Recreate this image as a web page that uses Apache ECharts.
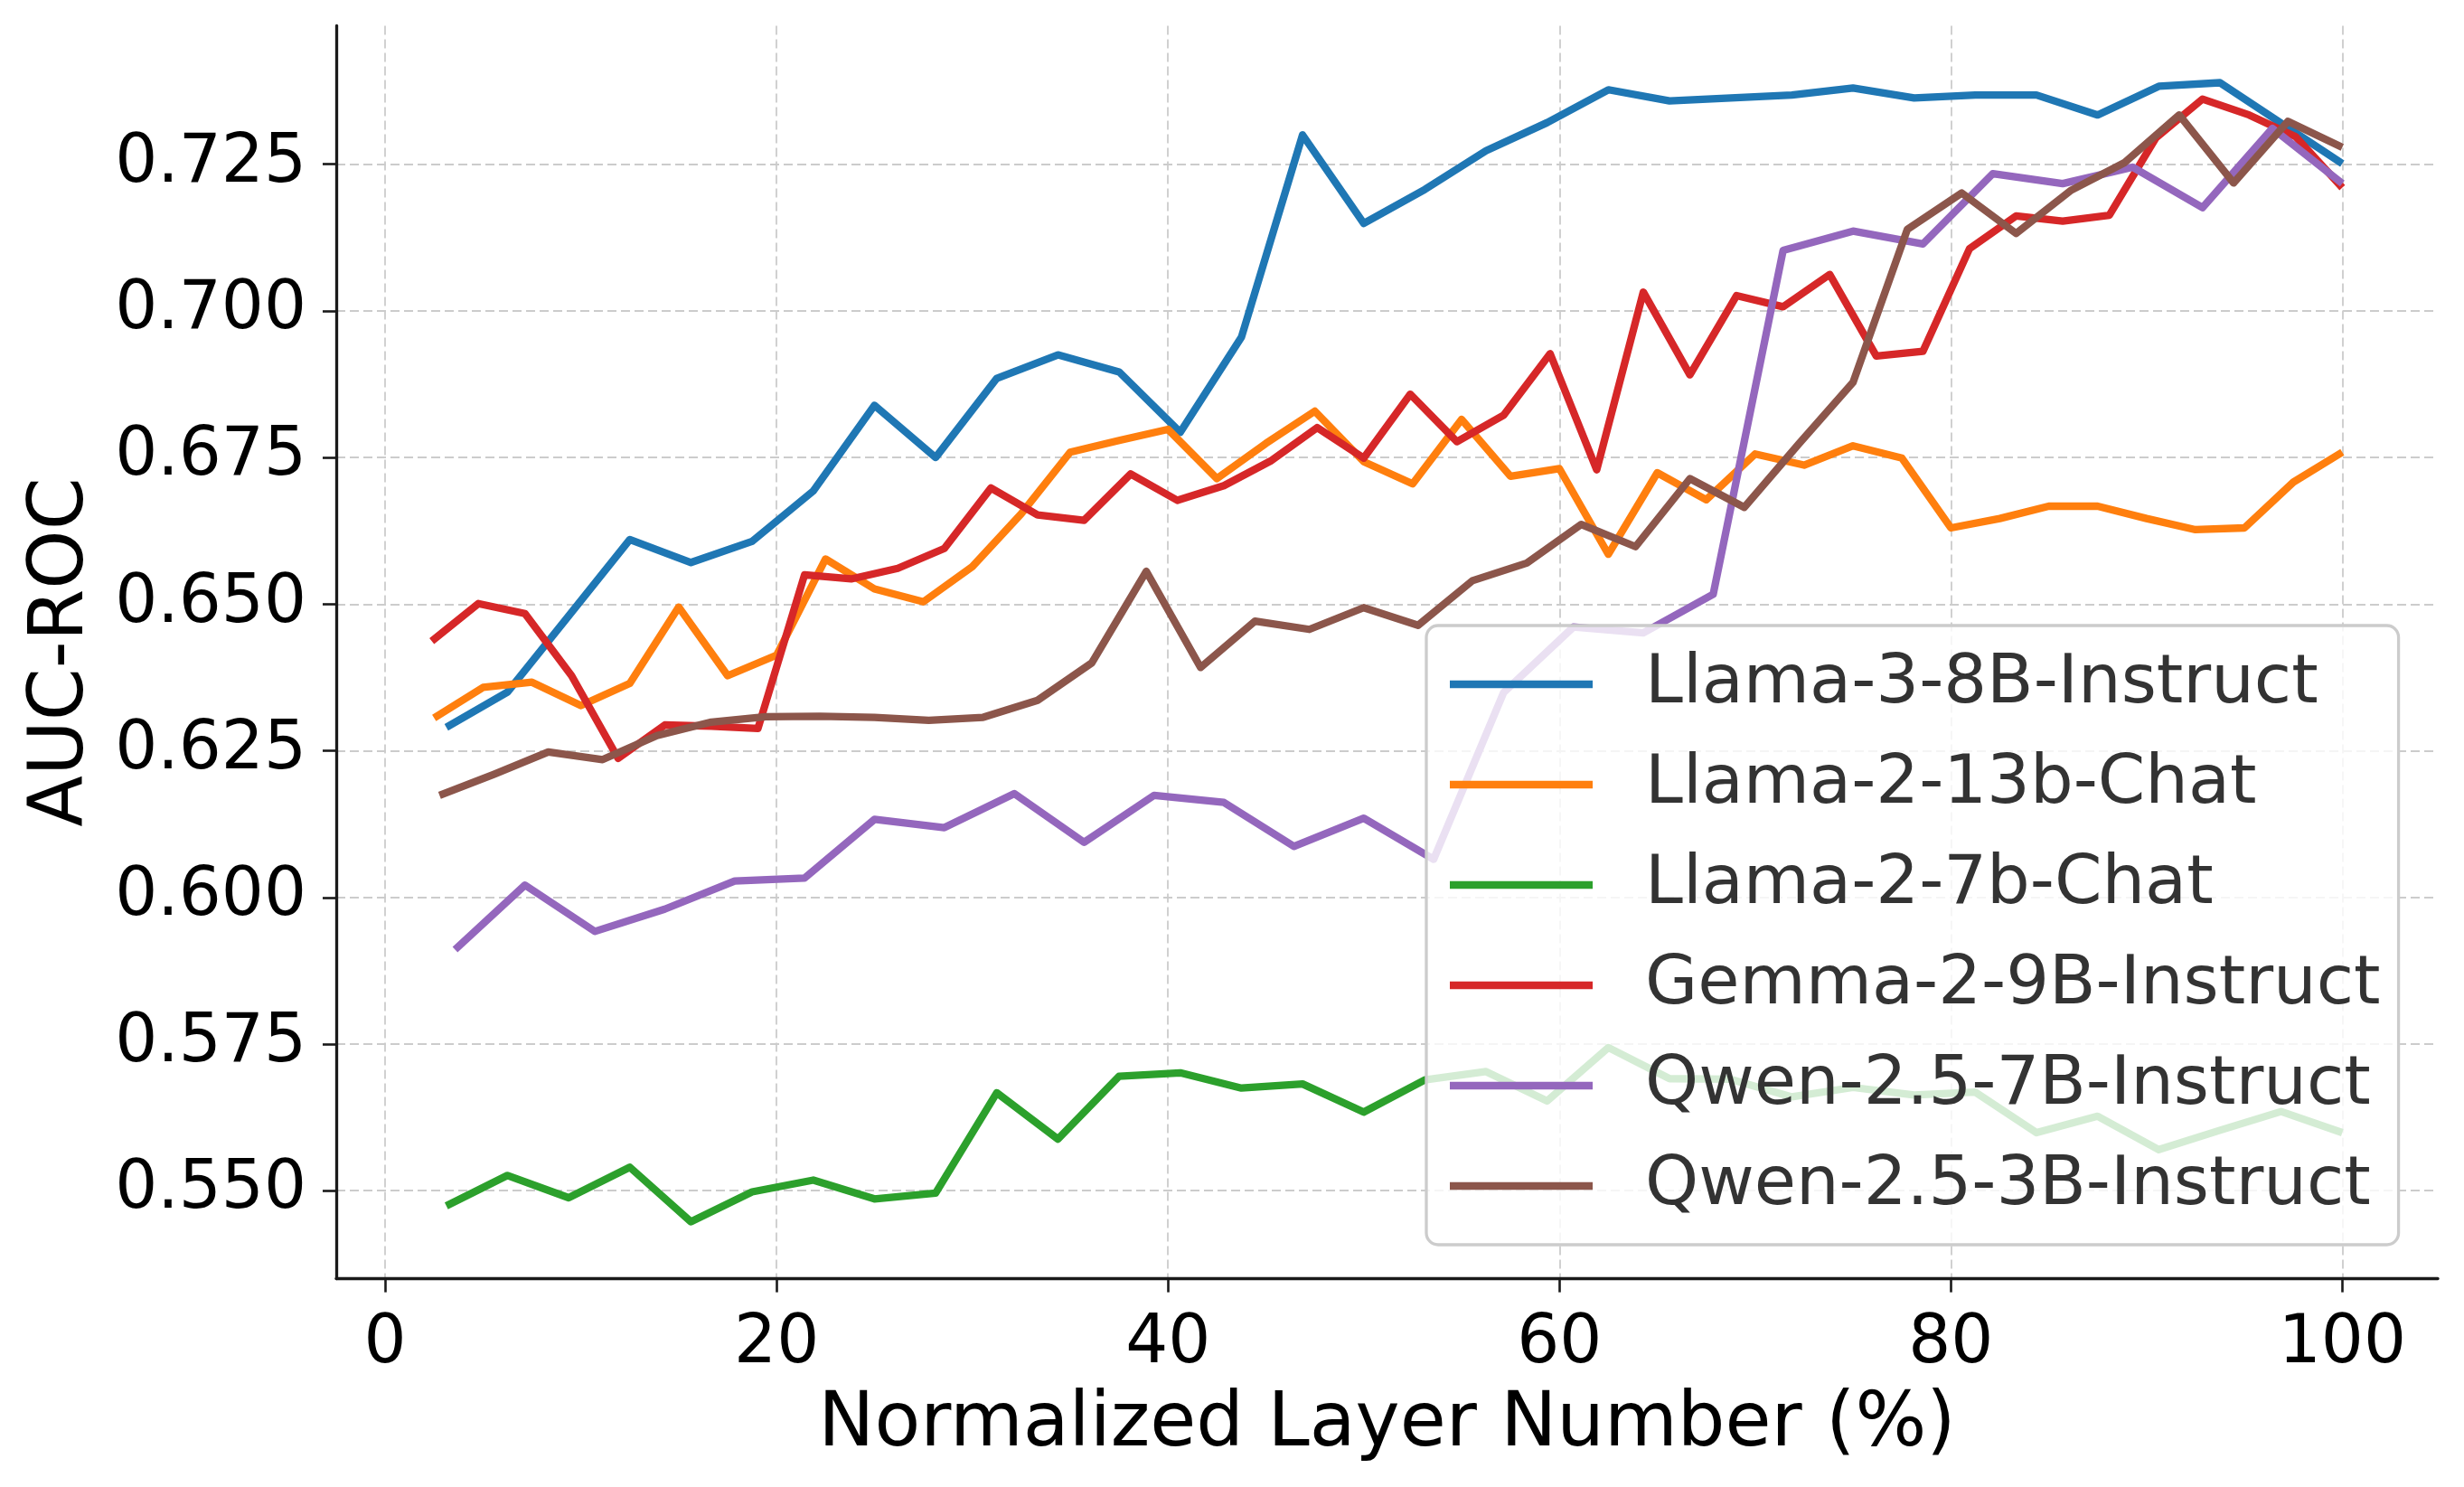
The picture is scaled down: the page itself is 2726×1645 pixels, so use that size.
<!DOCTYPE html>
<html>
<head>
<meta charset="utf-8">
<script src="https://cdn.jsdelivr.net/npm/echarts@6/dist/echarts.min.js"></script>
<style>
html,body{margin:0;padding:0;background:#fff;}
#chart{width:2726px;height:1645px;}
</style>
</head>
<body>
<div id="chart"></div>
<script>
// Model names and number of layers (x = layer / numLayers * 100)
const modelNames = ["Llama-3-8B-Instruct","Llama-2-13b-Chat","Llama-2-7b-Chat","Gemma-2-9B-Instruct","Qwen-2.5-7B-Instruct","Qwen-2.5-3B-Instruct"];
const numLayers = [32, 40, 32, 42, 28, 36];
const colors = ["#1f77b4","#ff7f0e","#2ca02c","#d62728","#9467bd","#8c564b"];

// AUC-ROC per layer
const llama3_8b = [0.629,0.635,0.648,0.661,0.6571,0.6607,0.6693,0.6839,0.675,0.6885,0.6925,0.6896,0.6793,0.6955,0.730,0.7149,0.7207,0.7273,0.7321,0.7377,0.7358,0.7363,0.7368,0.7380,0.7363,0.7368,0.7368,0.7334,0.7383,0.7389,0.7320,0.7251];
const llama2_13b = [0.6306,0.6358,0.6367,0.6327,0.6365,0.6495,0.6378,0.6413,0.6577,0.6526,0.6504,0.6564,0.6654,0.6759,0.6779,0.6798,0.6714,0.6774,0.6829,0.6743,0.6705,0.6815,0.6718,0.6731,0.6585,0.6724,0.6678,0.6756,0.6737,0.6770,0.6749,0.6630,0.6646,0.6667,0.6667,0.6646,0.6627,0.6630,0.6708,0.6759];
const llama2_7b = [0.5474,0.5526,0.5488,0.5540,0.5447,0.5498,0.5518,0.5486,0.5496,0.5667,0.5588,0.5695,0.5701,0.5675,0.5682,0.5634,0.5689,0.5703,0.5653,0.5744,0.5691,0.5690,0.5660,0.5676,0.5663,0.5668,0.5599,0.5627,0.5570,0.5603,0.5635,0.5599];
const gemma2_9b = [0.6437,0.6501,0.6484,0.6378,0.6237,0.6294,0.6292,0.6288,0.6550,0.6543,0.6561,0.6595,0.6698,0.6652,0.6643,0.6722,0.6677,0.6702,0.6744,0.6801,0.6749,0.6858,0.6777,0.6822,0.6927,0.6729,0.7032,0.6891,0.7026,0.7007,0.7062,0.6923,0.6931,0.7106,0.7162,0.7153,0.7163,0.7295,0.7361,0.7334,0.7297,0.7210];
const qwen25_7b = [0.5911,0.6021,0.5942,0.5980,0.6028,0.6033,0.6133,0.6119,0.6177,0.6094,0.6174,0.6162,0.6087,0.6135,0.6065,0.6349,0.6461,0.6451,0.6517,0.7103,0.7136,0.7114,0.7234,0.7217,0.7245,0.7176,0.7311,0.7217];
const qwen25_3b = [0.6174,0.6210,0.6248,0.6235,0.6276,0.6299,0.6308,0.6309,0.6307,0.6302,0.6307,0.6336,0.6400,0.6556,0.6392,0.6471,0.6457,0.6494,0.6464,0.6540,0.6570,0.6636,0.6598,0.6714,0.6665,0.6773,0.6878,0.7139,0.7201,0.7132,0.7205,0.7253,0.7334,0.7218,0.7323,0.7279];

const xTicks = [0, 20, 40, 60, 80, 100];
const yTicks = [0.550, 0.575, 0.600, 0.625, 0.650, 0.675, 0.700, 0.725];

const allValues = [llama3_8b, llama2_13b, llama2_7b, gemma2_9b, qwen25_7b, qwen25_3b];

const FONT = "DejaVu Sans";

const series = allValues.map((vals, k) => ({
  name: modelNames[k],
  type: 'line',
  data: vals.map((v, i) => [(i + 1) / numLayers[k] * 100, v]),
  showSymbol: false,
  symbol: 'none',
  lineStyle: { color: colors[k], width: 8.3, cap: 'butt', join: 'round' },
  itemStyle: { color: colors[k] },
  emphasis: { disabled: true },
  animation: false
}));

const chart = echarts.init(document.getElementById('chart'), null, { renderer: 'canvas' });
chart.setOption({
  backgroundColor: '#ffffff',
  animation: false,
  grid: { left: 372, right: 29, top: 28.5, bottom: 230.4, containLabel: false },
  xAxis: {
    type: 'value',
    min: -2.5, max: 104.88,
    name: 'Normalized Layer Number (%)',
    nameLocation: 'middle',
    nameGap: 121,
    nameTextStyle: { fontSize: 83, color: '#000', fontFamily: FONT },
    axisLine: { show: true, onZero: false, lineStyle: { color: '#1a1a1a', width: 3.3 } },
    axisTick: { show: true, inside: false, length: 15, lineStyle: { color: '#1a1a1a', width: 2.6 }, customValues: xTicks },
    axisLabel: { show: true, fontSize: 74, color: '#000', fontFamily: FONT, margin: 36, customValues: xTicks, formatter: v => String(v) },
    splitLine: { show: true, lineStyle: { color: '#cccccc', width: 1.8, type: [10, 5] } }
  },
  yAxis: {
    type: 'value',
    min: 0.53499, max: 0.74861,
    name: 'AUC-ROC',
    nameLocation: 'middle',
    nameGap: 261,
    nameTextStyle: { fontSize: 83, color: '#000', fontFamily: FONT },
    axisLine: { show: true, onZero: false, lineStyle: { color: '#1a1a1a', width: 3.3 } },
    axisTick: { show: true, inside: false, length: 15, lineStyle: { color: '#1a1a1a', width: 2.6 }, customValues: yTicks },
    axisLabel: { show: true, fontSize: 74, color: '#000', fontFamily: FONT, margin: 33, customValues: yTicks, formatter: v => v.toFixed(3) },
    splitLine: { show: true, lineStyle: { color: '#cccccc', width: 1.8, type: [10, 5] } }
  },
  legend: {
    data: modelNames,
    orient: 'vertical',
    left: 1578, top: 692,
    padding: [25, 20, 25, 26],
    itemWidth: 158, itemHeight: 8.3, itemGap: 31,
    icon: 'rect',
    selectedMode: false,
    backgroundColor: 'rgba(255,255,255,0.8)',
    borderColor: '#cccccc', borderWidth: 3.3, borderRadius: 13,
    textStyle: { fontSize: 75.2, color: '#333333', fontFamily: FONT, lineHeight: 80, padding: [0, 0, 0, 53] }
  },
  series: series
});
</script>
</body>
</html>
